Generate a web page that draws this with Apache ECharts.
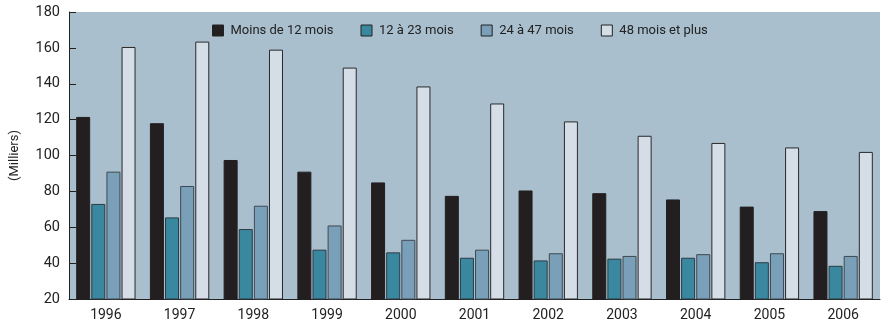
<!DOCTYPE html>
<html>
<head>
<meta charset="utf-8">
<script src="https://cdn.jsdelivr.net/npm/echarts@6/dist/echarts.min.js"></script>
<style>
  html, body { margin: 0; padding: 0; background: #fff; }
  #chart { width: 882px; height: 325px; }
</style>
</head>
<body>
<div id="chart"></div>
<script>
// années
const years = ['1996', '1997', '1998', '1999', '2000', '2001', '2002', '2003', '2004', '2005', '2006']
// séries (milliers)
const moins12 = [121.5, 118, 97.5, 91, 85, 77.5, 80.5, 79, 75.5, 71.5, 69]
const de12a23 = [73, 65.5, 59, 47.5, 46, 43, 41.5, 42.5, 43, 40.5, 38.5]
const de24a47 = [91, 83, 72, 61, 53, 47.5, 45.5, 44, 45, 45.5, 44]
const plus48 = [160.5, 163.5, 159, 149, 138.5, 129, 119, 111, 107, 104.5, 102]
const seriesNames = ['Moins de 12 mois', '12 à 23 mois', '24 à 47 mois', '48 mois et plus']
const colorList = ['#231f20', '#3a87a0', '#7a9fb8', '#d5dde6']

const chart = echarts.init(document.getElementById('chart'))

const mkSeries = (name, data, color, border) => ({
  name: name,
  type: 'bar',
  data: data,
  barWidth: 14,
  barGap: '8%',
  itemStyle: {
    color: color,
    borderColor: border,
    borderWidth: 1
  }
})

const option = {
  animation: false,
  textStyle: { fontFamily: 'Roboto' },
  grid: {
    left: 64,
    right: 2,
    top: 12,
    bottom: 26,
    show: true,
    backgroundColor: '#a9bfcd',
    borderWidth: 0
  },
  legend: {
    data: seriesNames,
    top: 19,
    left: 207,
    itemWidth: 11,
    itemHeight: 11,
    itemGap: 27,
    icon: 'rect',
    itemStyle: { borderColor: '#222', borderWidth: 1 },
    textStyle: { color: '#222', fontSize: 13, fontFamily: 'Roboto', padding: [0, 0, 0, 2] }
  },
  xAxis: {
    type: 'category',
    data: years,
    axisLine: { lineStyle: { color: '#222', width: 1 } },
    axisTick: { inside: true, length: 6, lineStyle: { color: '#222' } },
    axisLabel: { color: '#222', fontSize: 14, margin: 9 },
    splitLine: { show: false }
  },
  yAxis: {
    type: 'value',
    min: 20,
    max: 180,
    interval: 20,
    name: '(Milliers)',
    nameLocation: 'middle',
    nameGap: 48,
    nameTextStyle: { color: '#222', fontSize: 13 },
    axisLine: { show: true, lineStyle: { color: '#222', width: 1 } },
    axisTick: { show: true, inside: true, length: 7, lineStyle: { color: '#222' } },
    axisLabel: { color: '#222', fontSize: 14.5, margin: 9 },
    splitLine: { show: false }
  },
  series: [
    mkSeries(seriesNames[0], moins12, colorList[0], '#231f20'),
    mkSeries(seriesNames[1], de12a23, colorList[1], '#2e3b42'),
    mkSeries(seriesNames[2], de24a47, colorList[2], '#3e4a52'),
    mkSeries(seriesNames[3], plus48, colorList[3], '#2a2a2a')
  ]
}

chart.setOption(option)
</script>
</body>
</html>
